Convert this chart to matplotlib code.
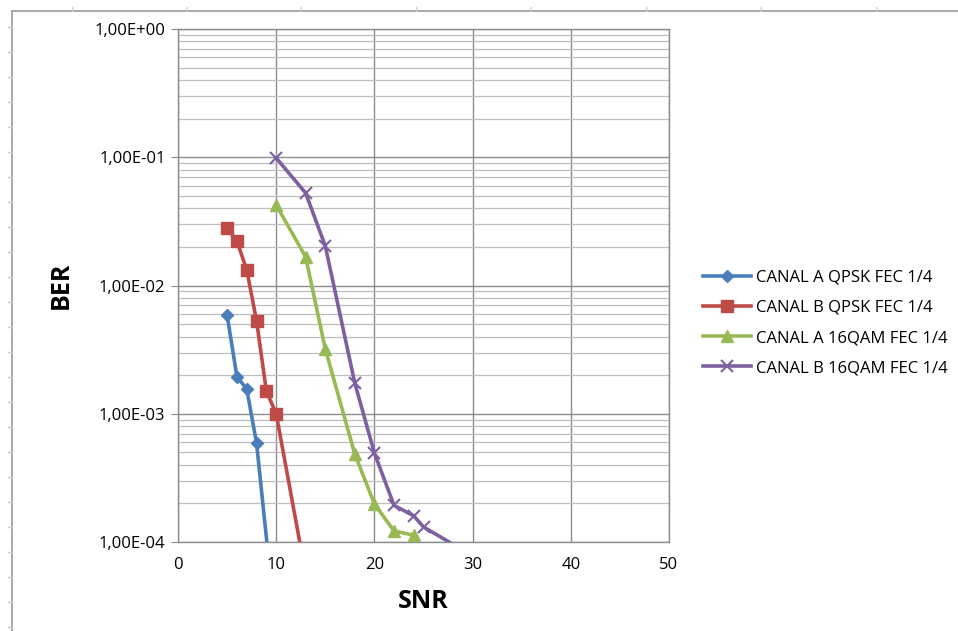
import numpy as np
import matplotlib.pyplot as plt
from matplotlib.lines import Line2D
from matplotlib.ticker import FixedLocator, LogLocator, NullFormatter

# values (SNR vs BER)
snr_a_qpsk = [5, 6, 7, 8, 10]
ber_a_qpsk = [5.9e-3, 1.94e-3, 1.56e-3, 5.9e-4, 2.0e-5]

snr_b_qpsk = [5, 6, 7, 8, 9, 10, 13]
ber_b_qpsk = [2.8e-2, 2.22e-2, 1.32e-2, 5.3e-3, 1.5e-3, 1.0e-3, 5.6e-5]

snr_a_16qam = [10, 13, 15, 18, 20, 22, 24, 25]
ber_a_16qam = [4.24e-2, 1.67e-2, 3.2e-3, 4.86e-4, 1.98e-4, 1.22e-4, 1.13e-4, 5.0e-5]

snr_b_16qam = [10, 13, 15, 18, 20, 22, 24, 25, 30]
ber_b_16qam = [9.86e-2, 5.26e-2, 2.03e-2, 1.74e-3, 4.94e-4, 1.93e-4, 1.6e-4, 1.31e-4, 7.8e-5]

labels = ['CANAL A QPSK FEC 1/4', 'CANAL B QPSK FEC 1/4',
          'CANAL A 16QAM FEC 1/4', 'CANAL B 16QAM FEC 1/4']
colors = ['#4A7EBB', '#BE4B48', '#98B954', '#7D60A0']
markers = ['D', 's', '^', 'x']
msizes = [6, 9, 8, 9]

plt.rcParams['font.family'] = ['Open Sans', 'DejaVu Sans']

W, H = 958, 631
fig = plt.figure(figsize=(W / 100, H / 100), dpi=100)

# plot area in pixels: x 178..669, y 29..542
left, right, top, bottom = 178, 669, 29, 542
ax = fig.add_axes([left / W, 1 - bottom / H, (right - left) / W, (bottom - top) / H])

series = [(snr_a_qpsk, ber_a_qpsk), (snr_b_qpsk, ber_b_qpsk),
          (snr_a_16qam, ber_a_16qam), (snr_b_16qam, ber_b_16qam)]
for (x, y), lab, c, m, ms in zip(series, labels, colors, markers, msizes):
    ax.plot(x, y, color=c, lw=2.6, marker=m, ms=ms, mew=1.5 if m == 'x' else 1,
            mec=c, mfc=c, label=lab, zorder=3)

ax.set_yscale('log')
ax.set_xlim(0, 50)
ax.set_ylim(1e-4, 1)
ax.xaxis.set_major_locator(FixedLocator([0, 10, 20, 30, 40, 50]))
ax.yaxis.set_major_locator(FixedLocator([1e-4, 1e-3, 1e-2, 1e-1, 1]))
ax.yaxis.set_minor_locator(LogLocator(base=10, subs=np.arange(2, 10)))
ax.yaxis.set_minor_formatter(NullFormatter())
ax.set_yticklabels(['1,00E-04', '1,00E-03', '1,00E-02', '1,00E-01', '1,00E+00'])

ax.grid(True, which='major', color='#8c8c8c', lw=1.0, zorder=1)
ax.grid(True, which='minor', axis='y', color='#bdbdbd', lw=0.9, zorder=1)
for s in ax.spines.values():
    s.set_color('#8c8c8c')
    s.set_linewidth(1.0)
ax.tick_params(axis='y', which='major', length=5, color='#8c8c8c', labelsize=12, pad=4)
ax.tick_params(axis='y', which='minor', length=0)
ax.tick_params(axis='x', length=0, labelsize=12, pad=11)

ax.set_xlabel('SNR', fontsize=18, fontweight='bold', labelpad=11)
ax.set_ylabel('BER', fontsize=18, fontweight='bold', labelpad=15)

leg = fig.legend(loc='center left', bbox_to_anchor=(688 / W, 1 - 323 / H), frameon=False,
                 fontsize=12, handlelength=2.9, handletextpad=0.3, labelspacing=0.85)

# outer chart frame with faint ruler ticks
fc = '#9a9a9a'
fig.add_artist(Line2D([12 / W, 1], [1 - 11 / H, 1 - 11 / H], color=fc, lw=1.2))
fig.add_artist(Line2D([12 / W, 12 / W], [0, 1 - 11 / H], color=fc, lw=1.2))
for px in [72, 187, 301, 416, 531, 646, 761, 876]:
    fig.add_artist(Line2D([px / W, px / W], [1 - 7 / H, 1 - 11 / H], color='#cccccc', lw=1))
for py in [27, 52, 77, 102, 127, 152, 177, 202, 227, 252, 277, 302, 327, 352,
           377, 402, 427, 452, 477, 502, 527, 552, 577, 602, 627]:
    fig.add_artist(Line2D([8 / W, 12 / W], [1 - py / H, 1 - py / H], color='#cccccc', lw=1))

fig.savefig('out.png', dpi=100)
